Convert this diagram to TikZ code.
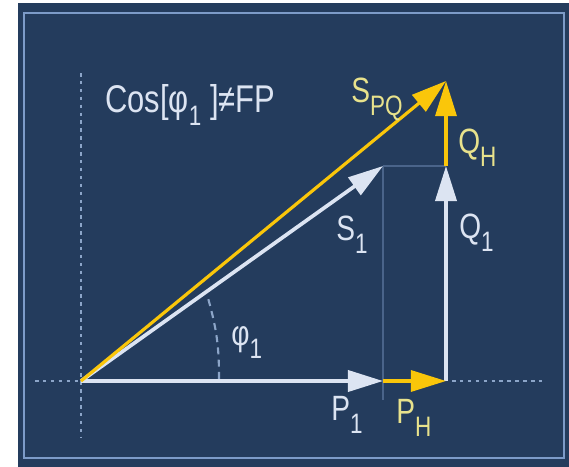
\documentclass[tikz,border=0pt]{standalone}
\usepackage{fontspec}
\setmainfont{Liberation Sans}
\newfontfamily\plotfont{Liberation Sans}[FakeStretch=0.8]
\usetikzlibrary{arrows.meta}

\definecolor{panel}{RGB}{36,60,93}
\definecolor{rim}{RGB}{125,155,200}
\definecolor{phasor}{RGB}{220,228,242}
\definecolor{harm}{RGB}{250,198,10}
\definecolor{harmtxt}{RGB}{232,226,140}
\definecolor{guide}{RGB}{140,165,200}
\definecolor{faint}{RGB}{74,100,138}

\newcommand{\idx}[1]{\raisebox{-7.5pt}{\fontsize{16}{16}\selectfont #1}}

\begin{document}
\begin{tikzpicture}[x=0.02cm, y=-0.02cm,
		vec/.style={line width=2.1pt, -{Triangle[length=20pt, width=12pt]}},
		fund/.style={vec, phasor},
		harmonic/.style={vec, harm, line width=1.8pt},
		guideline/.style={guide, line width=1.2pt, dash pattern=on 2pt off 2.5pt},
		proj/.style={faint, line width=0.8pt},
		lbl/.style={inner sep=0pt, anchor=base west, font=\plotfont\fontsize{20}{20}\selectfont}]
	\useasboundingbox (0,0) rectangle (569,467);
	\fill[panel] (18,3) rectangle (569,467);
	\draw[rim, line width=1.4pt] (24,13) rectangle (564,458);
	% vector end points
	\coordinate (O) at (81,381);
	\coordinate (p1) at (383,381);
	\coordinate (ph) at (446,381);
	\coordinate (s1) at (383,166);
	\coordinate (q1) at (446,166);
	\coordinate (spq) at (446,81);
	% guide lines
	\coordinate (vtop) at (81,73);
	\coordinate (vbot) at (81,438);
	\coordinate (hl) at (35,381);
	\coordinate (hr0) at (452,381);
	\coordinate (hr) at (545,381);
	\coordinate (pfoot) at (383,400);
	\coordinate (a0) at (219,379);
	\coordinate (a1) at (208,298);
	\draw[guideline] (vtop) -- (vbot);
	\draw[guideline] (hl) -- (O);
	\draw[guideline] (hr0) -- (hr);
	\draw[guideline, dash pattern=on 4pt off 3pt] (a0) to[bend right=8] (a1);
	\draw[proj] (s1) -- (q1);
	\draw[proj] (s1) -- (pfoot);
	% fundamental and harmonic vectors
	\draw[fund] (O) -- (p1);
	\draw[fund] (ph) -- (q1);
	\draw[fund] (O) -- (s1);
	\draw[harmonic] (p1) -- (ph);
	\draw[harmonic] (q1) -- (spq);
	\draw[harmonic] (O) -- (spq);
	% labels
	\node[lbl, phasor, font=\plotfont\fontsize{22}{22}\selectfont] (cosnote) at (105,112) {Cos[φ\idx{1} ]≠FP};
	\node[lbl, harmtxt] (lspq) at (351,102) {S\idx{PQ}};
	\node[lbl, harmtxt] (lqh) at (458,153) {Q\idx{H}};
	\node[lbl, phasor] (ls1) at (336,240) {S\idx{1}};
	\node[lbl, phasor] (lq1) at (459,238) {Q\idx{1}};
	\node[lbl, phasor] (lphi) at (231,345) {φ\idx{1}};
	\node[lbl, phasor] (lp1) at (331,420) {P\idx{1}};
	\node[lbl, harmtxt] (lph) at (396,423) {P\idx{H}};
\end{tikzpicture}
\end{document}
